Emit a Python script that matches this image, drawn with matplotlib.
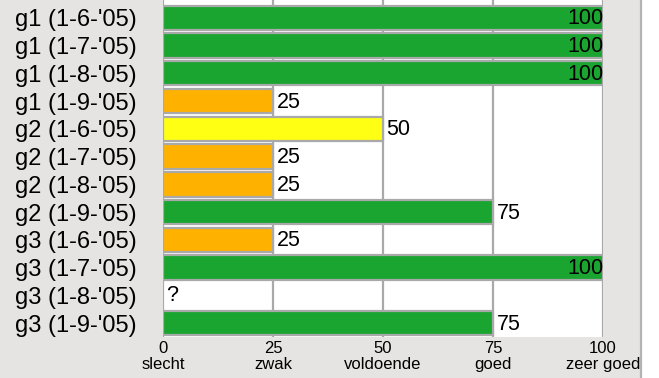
import matplotlib
matplotlib.use("Agg")
import matplotlib.pyplot as plt
from matplotlib.patches import Rectangle

# ---- data ----
labels = [
    "g1 (1-6-'05)", "g1 (1-7-'05)", "g1 (1-8-'05)", "g1 (1-9-'05)",
    "g2 (1-6-'05)", "g2 (1-7-'05)", "g2 (1-8-'05)", "g2 (1-9-'05)",
    "g3 (1-6-'05)", "g3 (1-7-'05)", "g3 (1-8-'05)", "g3 (1-9-'05)",
]
scores = [100, 100, 100, 25, 50, 25, 25, 75, 25, 100, None, 75]
scale_vals = [0, 25, 50, 75, 100]
scale_names = ["slecht", "zwak", "voldoende", "goed", "zeer goed"]

BG = "#e6e3e3"
EDGE = "#a9a9a9"
GREEN = "#1aa531"
ORANGE = "#ffb100"
YELLOW = "#ffff14"


def bar_color(v):
    if v >= 75:
        return GREEN
    if v >= 50:
        return YELLOW
    return ORANGE


plt.rcParams["font.family"] = ["Liberation Sans", "DejaVu Sans"]

W, H = 659, 378
fig = plt.figure(figsize=(W / 100, H / 100), dpi=100, facecolor=BG)
ax = fig.add_axes([163 / W, 41 / H, 440 / W, 337 / H])
ax.set_facecolor("white")

# panel edge on the right
fig.add_artist(Rectangle((641 / W, 0), 18 / W, 1, transform=fig.transFigure,
                         facecolor="white", edgecolor="none"))
fig.add_artist(plt.Line2D([641 / W, 641 / W], [0, 1], transform=fig.transFigure,
                          color="#b4b2b2", lw=1.6))

for x in scale_vals:
    ax.axvline(x, color=EDGE, lw=1.6, zorder=1)

for i, v in enumerate(scores):
    if v is None:
        ax.text(0.8, i, "?", ha="left", va="center", fontsize=15.5, zorder=4)
        continue
    ax.barh(i, v, height=0.88, color=bar_color(v), edgecolor=EDGE,
            linewidth=1.6, zorder=2)
    if v >= 100:
        ax.text(v, i + 0.04, str(v), ha="right", va="center", fontsize=15.5, zorder=4)
    else:
        ax.text(v + 0.8, i + 0.04, str(v), ha="left", va="center", fontsize=15.5, zorder=4)

ax.set_xlim(0, 100)
ax.set_ylim(11.5, -0.64)
ax.set_yticks(range(len(labels)))
ax.set_yticklabels(labels, fontsize=17)
ax.set_xticks(scale_vals)
ax.set_xticklabels([f"{v}\n{n}" for v, n in zip(scale_vals, scale_names)],
                   fontsize=12, linespacing=1.1)
ax.tick_params(axis="y", length=0, pad=19)
ax.tick_params(axis="x", length=0, pad=3)
for s in ax.spines.values():
    s.set_visible(False)

fig.savefig("out.png", dpi=100, facecolor=BG)
